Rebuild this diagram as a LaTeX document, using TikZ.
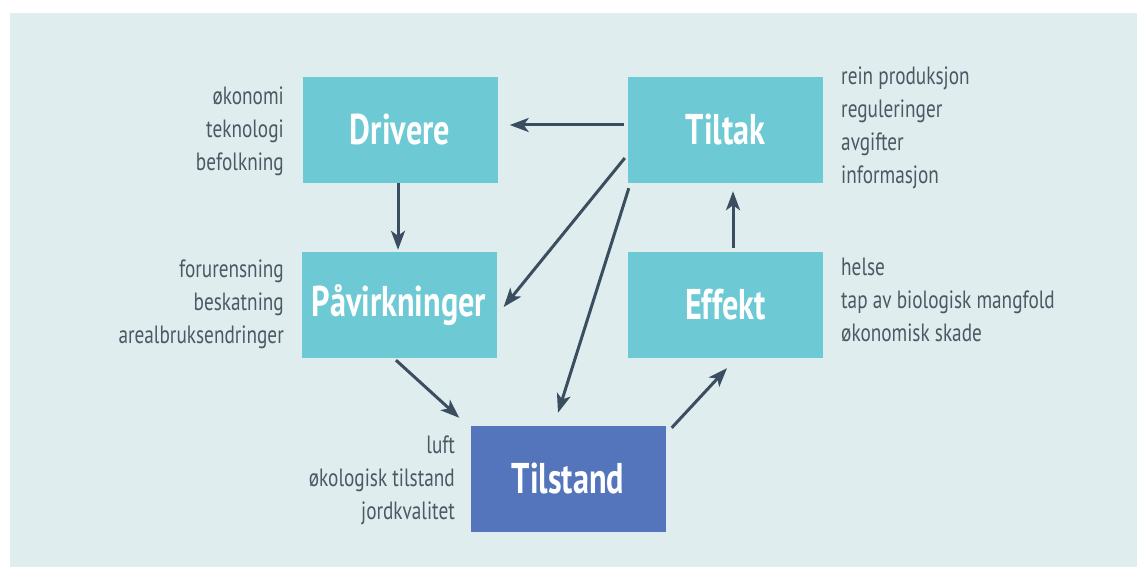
\documentclass[tikz,border=0pt]{standalone}
\usepackage{fontspec}
\setmainfont{PT Sans}
\newfontfamily\lblfont{PT Sans}[FakeStretch=0.77]
\newfontfamily\ttlfont{PT Sans}[FakeStretch=0.75]
\usetikzlibrary{arrows.meta}
\definecolor{panel}{HTML}{DFEDEE}
\definecolor{boxc}{HTML}{6DC9D4}
\definecolor{stateblue}{HTML}{5474BC}
\definecolor{arrc}{HTML}{3B4E5F}
\definecolor{txtc}{HTML}{4A5963}
\tikzset{
  stage/.style={fill=boxc, draw=none, minimum width=195pt, minimum height=106pt, inner sep=0pt,
    text=white, font=\ttlfont\bfseries\fontsize{43}{45}\selectfont},
  lblright/.style={anchor=east, align=right, inner sep=0pt, text=txtc, font=\lblfont\fontsize{25}{33}\selectfont},
  lblleft/.style={anchor=west, align=left, inner sep=0pt, text=txtc, font=\lblfont\fontsize{25}{33}\selectfont},
  arr/.style={draw=arrc, line width=3pt, -{Stealth[length=19pt,width=14pt,inset=5pt]}}
}
\begin{document}
\begin{tikzpicture}[x=1pt,y=-1pt]
\useasboundingbox (0,0) rectangle (1137,567);
\fill[white] (0,0) rectangle (1137,567);
\fill[panel] (10,13) rectangle (1137,567);

\node[stage] (drivere) at (400,130) {Drivere};
\node[stage] (pav) at (399,305) {Påvirkninger};
\node[stage] (tiltak) at (725.5,130) {Tiltak};
\node[stage] (effekt) at (725.5,305) {Effekt};
\node[stage, fill=stateblue] (tilstand) at (568,479) {Tilstand};

\node[lblright] (ldrivere) at (284,131) {økonomi\\teknologi\\befolkning};
\node[lblright] (lpav) at (284,304) {forurensning\\beskatning\\arealbruksendringer};
\node[lblleft] (ltiltak) at (841,128) {rein produksjon\\reguleringer\\avgifter\\informasjon};
\node[lblleft] (leffekt) at (841,300) {helse\\tap av biologisk mangfold\\økonomisk skade};
\node[lblright] (ltilstand) at (455,480) {luft\\økologisk tilstand\\jordkvalitet};

\draw[arr] ([xshift=-4pt,yshift=5pt]tiltak.west) -- ([xshift=12pt,yshift=5pt]drivere.east);
\draw[arr] ([xshift=-2pt]drivere.south) -- ([xshift=-1pt,yshift=2pt]pav.north);
\draw[arr] ([xshift=-3pt,yshift=-28pt]tiltak.west) -- ([xshift=7pt,yshift=-2pt]pav.east);
\draw[arr] ([xshift=1pt,yshift=-5pt]tiltak.south west) -- ([xshift=-10pt,yshift=13pt]tilstand.north);
\draw[arr] ([xshift=-3pt,yshift=-2pt]pav.south) -- ([xshift=-11pt,yshift=8pt]tilstand.north west);
\draw[arr] ([xshift=6pt,yshift=-2pt]tilstand.north east) -- ([xshift=1.5pt,yshift=-10pt]effekt.south);
\draw[arr] ([xshift=7.5pt,yshift=4pt]effekt.north) -- ([xshift=7.5pt,yshift=-8pt]tiltak.south);
\end{tikzpicture}
\end{document}
